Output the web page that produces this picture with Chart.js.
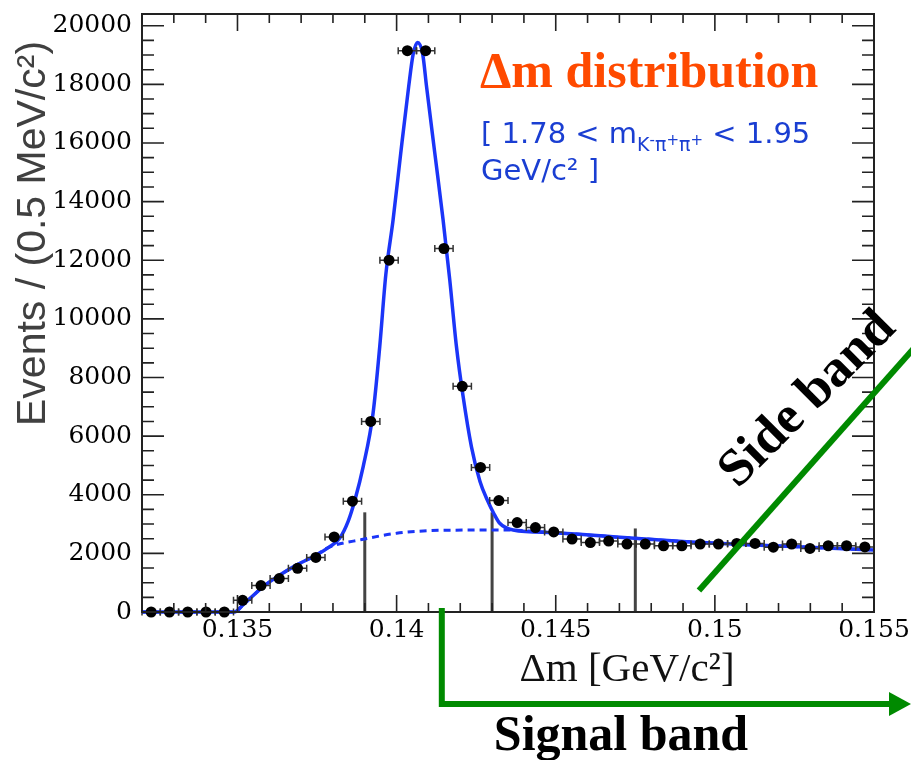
<!DOCTYPE html>
<html>
<head>
<meta charset="utf-8">
<script src="https://cdn.jsdelivr.net/npm/chart.js@4.4.1/dist/chart.umd.min.js"></script>
<style>
  html, body { margin: 0; padding: 0; background: #fff; }
  #wrap { width: 911px; height: 760px; }
</style>
</head>
<body>
<div id="wrap"><canvas id="dmChart" width="911" height="760"></canvas></div>
<script>
// Data ---------------------------------------------------------------------->
const binCenters = [
  0.1322875, 0.1328625, 0.1334375, 0.1340125, 0.1345875, 0.1351625, 0.1357375, 0.1363125,
  0.1368875, 0.1374625, 0.1380375, 0.1386125, 0.1391875, 0.1397625, 0.1403375, 0.1409125,
  0.1414875, 0.1420625, 0.1426375, 0.1432125, 0.1437875, 0.1443625, 0.1449375, 0.1455125,
  0.1460875, 0.1466625, 0.1472375, 0.1478125, 0.1483875, 0.1489625, 0.1495375, 0.1501125,
  0.1506875, 0.1512625, 0.1518375, 0.1524125, 0.1529875, 0.1535625, 0.1541375, 0.1547125
];
const eventCounts = [
  0, 0, 0, 0, 0, 400, 900, 1140,
  1490, 1860, 2560, 3780, 6500, 12000, 19150, 19150,
  12400, 7700, 4930, 3800, 3050, 2880, 2730, 2490,
  2370, 2420, 2320, 2320, 2260, 2260, 2320, 2320,
  2340, 2340, 2210, 2320, 2170, 2260, 2260, 2220
];
const binHalfWidth = 0.0002875;

// total fit (solid)
const fitX = [0.1320, 0.1349, 0.13517, 0.13580, 0.13633, 0.13685, 0.13748, 0.13790, 0.13821,
  0.13848, 0.13869, 0.13895, 0.13926, 0.13947, 0.13966, 0.13989, 0.14013, 0.14038, 0.14052,
  0.14066, 0.14082, 0.14094, 0.14120, 0.14146, 0.14167, 0.14188, 0.14209, 0.14235, 0.14262,
  0.14285, 0.14305, 0.14324, 0.14366, 0.14492, 0.14702, 0.14911, 0.15121, 0.15330, 0.15500];
const fitY = [0, 0, 240, 860, 1260, 1600, 1945, 2230, 2515,
  3100, 3820, 4960, 6780, 9055, 11500, 13380, 15655, 17930, 19030,
  19430, 19030, 17930, 15655, 13380, 11331, 9055, 7348, 5642, 4450,
  3820, 3369, 3027, 2799, 2707, 2550, 2400, 2287, 2195, 2116];

// background (dashed)
const bkgX = [0.1320, 0.1349, 0.13517, 0.13580, 0.13633, 0.13685, 0.13748, 0.13780, 0.13895,
  0.14000, 0.14104, 0.14178, 0.14335, 0.14492, 0.14702, 0.14911, 0.15121, 0.15330, 0.15500];
const bkgY = [0, 0, 240, 860, 1260, 1600, 1945, 2174, 2481,
  2686, 2775, 2790, 2799, 2707, 2550, 2400, 2287, 2195, 2116];

// grey cut lines
const cutX = [0.1390, 0.1430, 0.1475];
const cutTop = [3400, 3400, 2850];

// axes
const xTickValues = [0.135, 0.14, 0.145, 0.15, 0.155];
const xTickLabels = ['0.135', '0.14', '0.145', '0.15', '0.155'];
const yTickValues = [0, 2000, 4000, 6000, 8000, 10000, 12000, 14000, 16000, 18000, 20000];

// annotation anchors (data coords)
const signalBandStart = 0.14142;
const sideBandFrom = { x: 0.1495, y: 730 };
const sideBandTo = { x: 0.1565, y: 9300 };

const BLUE = '#1b35f8';
const TEXT_BLUE = '#1a3ed2';
const GREEN = '#008a00';

// Drawing helpers ----------------------------------------------------------->
function drawText(ctx, parts, x, y) {
  // parts: [{t, font, dy, color}]
  let cx = x;
  parts.forEach(p => {
    ctx.font = p.font;
    ctx.fillStyle = p.color;
    ctx.fillText(p.t, cx, y + (p.dy || 0));
    cx += ctx.measureText(p.t).width;
  });
}

const framePlugin = {
  id: 'frame',
  beforeDatasetDraw(chart, args) {
    if (args.index !== 0) return;
    // horizontal error bars under the markers
    const ctx = chart.ctx, xs = chart.scales.x, ys = chart.scales.y;
    ctx.save();
    ctx.strokeStyle = '#333';
    ctx.lineWidth = 1.5;
    binCenters.forEach((c, i) => {
      const y = ys.getPixelForValue(eventCounts[i]);
      const xa = xs.getPixelForValue(c - binHalfWidth);
      const xb = xs.getPixelForValue(c + binHalfWidth);
      ctx.beginPath();
      ctx.moveTo(xa, y); ctx.lineTo(xb, y);
      ctx.moveTo(xa, y - 3.5); ctx.lineTo(xa, y + 3.5);
      ctx.moveTo(xb, y - 3.5); ctx.lineTo(xb, y + 3.5);
      ctx.stroke();
    });
    ctx.restore();
  },
  afterDraw(chart) {
    const ctx = chart.ctx, xs = chart.scales.x, ys = chart.scales.y;
    const a = chart.chartArea;
    ctx.save();

    // frame and inward ticks (ROOT style)
    ctx.strokeStyle = '#222';
    ctx.lineWidth = 2;
    ctx.strokeRect(a.left, a.top, a.right - a.left, a.bottom - a.top);
    ctx.lineWidth = 1.6;
    ctx.beginPath();
    for (let k = 132; k <= 155; k++) {
      const px = xs.getPixelForValue(k / 1000);
      const len = k % 5 === 0 ? 17 : 9;
      ctx.moveTo(px, a.bottom); ctx.lineTo(px, a.bottom - len);
      ctx.moveTo(px, a.top); ctx.lineTo(px, a.top + len);
    }
    for (let v = 0; v <= 20400; v += 500) {
      const py = ys.getPixelForValue(v);
      const len = v % 2000 === 0 ? 22 : 12;
      ctx.moveTo(a.left, py); ctx.lineTo(a.left + len, py);
      ctx.moveTo(a.right, py); ctx.lineTo(a.right - len, py);
    }
    ctx.stroke();

    // axis titles
    ctx.textBaseline = 'alphabetic';
    ctx.textAlign = 'left';
    ctx.save();
    ctx.translate(45, 426);
    ctx.rotate(-Math.PI / 2);
    ctx.font = '41px "Liberation Sans", Arial, sans-serif';
    ctx.fillStyle = '#404040';
    ctx.fillText('Events / (0.5 MeV/c\u00B2)', 0, 0);
    ctx.restore();

    ctx.font = '41px "Liberation Serif", "Times New Roman", serif';
    ctx.fillStyle = '#111';
    ctx.textAlign = 'center';
    ctx.fillText('\u0394m [GeV/c\u00B2]', 627, 681);

    // plot labels
    ctx.textAlign = 'left';
    ctx.font = 'bold 50px "Liberation Serif", "Times New Roman", serif';
    ctx.fillStyle = '#ff4a00';
    ctx.fillText('\u0394m distribution', 480, 87);

    const big = '29px "DejaVu Sans", Verdana, sans-serif';
    const sub = '19px "DejaVu Sans", Verdana, sans-serif';
    const sup = '15px "DejaVu Sans", Verdana, sans-serif';
    drawText(ctx, [
      { t: '[ 1.78 < m', font: big, color: TEXT_BLUE },
      { t: 'K', font: sub, dy: 8, color: TEXT_BLUE },
      { t: '-', font: sup, dy: 2, color: TEXT_BLUE },
      { t: '\u03C0', font: sub, dy: 8, color: TEXT_BLUE },
      { t: '+', font: sup, dy: 2, color: TEXT_BLUE },
      { t: '\u03C0', font: sub, dy: 8, color: TEXT_BLUE },
      { t: '+', font: sup, dy: 2, color: TEXT_BLUE },
      { t: ' < 1.95', font: big, color: TEXT_BLUE }
    ], 481, 143);
    drawText(ctx, [{ t: 'GeV/c\u00B2 ]', font: big, color: TEXT_BLUE }], 481, 180);

    // signal band arrow
    const sx = xs.getPixelForValue(signalBandStart);
    ctx.strokeStyle = GREEN;
    ctx.fillStyle = GREEN;
    ctx.lineWidth = 6;
    ctx.lineCap = 'butt';
    ctx.beginPath();
    ctx.moveTo(sx, a.bottom - 4);
    ctx.lineTo(sx, 704);
    ctx.lineTo(890, 704);
    ctx.stroke();
    ctx.beginPath();
    ctx.moveTo(889, 692);
    ctx.lineTo(911, 704);
    ctx.lineTo(889, 716);
    ctx.closePath();
    ctx.fill();

    // side band line
    ctx.beginPath();
    ctx.moveTo(xs.getPixelForValue(sideBandFrom.x), ys.getPixelForValue(sideBandFrom.y));
    ctx.lineTo(xs.getPixelForValue(sideBandTo.x), ys.getPixelForValue(sideBandTo.y));
    ctx.stroke();

    ctx.fillStyle = '#000';
    ctx.font = 'bold 50px "Liberation Serif", "Times New Roman", serif';
    ctx.textAlign = 'center';
    ctx.fillText('Signal band', 621, 750);

    ctx.save();
    ctx.translate(808, 400);
    ctx.rotate(-45 * Math.PI / 180);
    ctx.textBaseline = 'middle';
    ctx.font = 'bold 53px "Liberation Serif", "Times New Roman", serif';
    ctx.fillText('Side band', 0, 0);
    ctx.restore();

    ctx.restore();
  }
};

// Chart ---------------------------------------------------------------------->
const datasets = [
  {
    data: binCenters.map((x, i) => ({ x: x, y: eventCounts[i] })),
    showLine: false,
    pointRadius: 5.5,
    pointBackgroundColor: '#000',
    pointBorderColor: '#000',
    pointBorderWidth: 0,
    clip: false
  },
  {
    data: fitX.map((x, i) => ({ x: x, y: fitY[i] })),
    showLine: true,
    borderColor: BLUE,
    borderWidth: 3.5,
    pointRadius: 0,
    cubicInterpolationMode: 'monotone',
    clip: false
  },
  {
    data: bkgX.map((x, i) => ({ x: x, y: bkgY[i] })),
    showLine: true,
    borderColor: BLUE,
    borderWidth: 3,
    borderDash: [7, 5],
    pointRadius: 0,
    cubicInterpolationMode: 'monotone',
    clip: false
  }
];
cutX.forEach((x, i) => {
  datasets.push({
    data: [{ x: x, y: 0 }, { x: x, y: cutTop[i] }],
    showLine: true,
    borderColor: '#444',
    borderWidth: 3,
    pointRadius: 0
  });
});

new Chart(document.getElementById('dmChart'), {
  type: 'scatter',
  data: { datasets: datasets },
  plugins: [framePlugin],
  options: {
    responsive: false,
    animation: false,
    layout: { padding: { left: 0, top: 14, right: 37, bottom: 0 } },
    plugins: { legend: { display: false }, tooltip: { enabled: false } },
    scales: {
      x: {
        type: 'linear',
        min: 0.132,
        max: 0.155,
        grid: { display: false, drawTicks: false },
        border: { display: false },
        afterBuildTicks: s => { s.ticks = xTickValues.map(v => ({ value: v })); },
        afterFit: s => { s.height = 148; },
        ticks: {
          padding: 1,
          color: '#000',
          maxRotation: 0,
          font: { family: '"DejaVu Serif", serif', size: 25, lineHeight: 1.4 },
          callback: (v, i) => xTickLabels[i]
        }
      },
      y: {
        type: 'linear',
        min: 0,
        max: 20400,
        grid: { display: false, drawTicks: false },
        border: { display: false },
        afterBuildTicks: s => { s.ticks = yTickValues.map(v => ({ value: v })); },
        afterFit: s => { s.width = 142; },
        ticks: {
          padding: 10,
          color: '#000',
          font: { family: '"DejaVu Serif", serif', size: 25, lineHeight: 0.1 },
          callback: v => String(v)
        }
      }
    }
  }
});
</script>
</body>
</html>
